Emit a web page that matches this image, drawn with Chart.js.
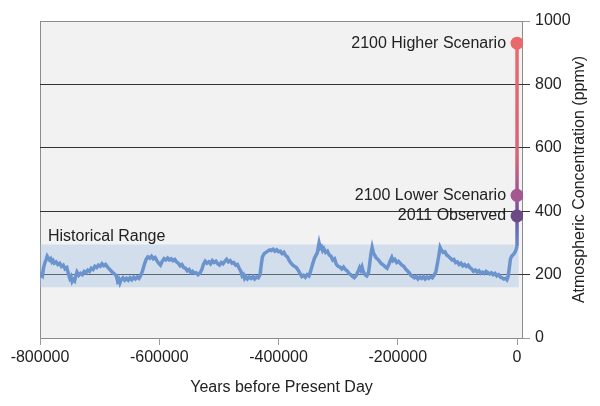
<!DOCTYPE html>
<html>
<head>
<meta charset="utf-8">
<script src="https://cdn.jsdelivr.net/npm/chart.js@4"></script>
<style>
  body { margin: 0; background: #fff; }
  #wrap { width: 600px; height: 406px; }
</style>
</head>
<body>
<div id="wrap"><canvas id="co2Chart" width="600" height="406"></canvas></div>
<script>
// CO2 record (years before present, ppmv)
const years = [
  -800000, -798000, -796000, -794000, -792000, -790000, -788000, -786000, -784000, -782000,
  -780000, -778000, -776000, -773000, -770000, -767000, -764000, -761000, -758000, -755000,
  -752000, -750000, -748000, -746000, -744000, -742000, -740000, -738000, -735000, -732000,
  -729000, -726000, -723000, -720000, -717000, -714000, -711000, -708000, -705000, -702000,
  -699000, -696000, -693000, -690000, -687000, -684000, -681000, -678000, -675000, -672000,
  -670000, -668000, -666000, -664000, -661000, -658000, -655000, -652000, -649000, -646000,
  -643000, -640000, -637000, -634000, -631000, -628000, -625000, -622000, -619000, -616000,
  -613000, -610000, -607000, -604000, -601000, -598000, -595000, -592000, -589000, -586000,
  -583000, -580000, -577000, -574000, -571000, -568000, -565000, -562000, -559000, -556000,
  -553000, -550000, -547000, -544000, -541000, -538000, -535000, -532000, -529000, -526000,
  -523000, -520000, -517000, -514000, -511000, -508000, -505000, -502000, -499000, -496000,
  -493000, -490000, -487000, -484000, -481000, -478000, -475000, -472000, -469000, -466000,
  -463000, -461000, -459000, -457000, -455000, -452000, -449000, -446000, -443000, -440000,
  -437000, -434000, -431000, -429000, -427000, -424000, -421000, -418000, -415000, -412000,
  -409000, -406000, -403000, -400000, -397000, -394000, -391000, -388000, -385000, -382000,
  -379000, -376000, -373000, -370000, -367000, -364000, -361000, -358000, -355000, -352000,
  -349000, -346000, -343000, -340000, -337000, -335000, -333000, -332000, -330000, -328000,
  -326000, -324000, -321000, -318000, -315000, -312000, -309000, -306000, -303000, -300000,
  -297000, -294000, -291000, -288000, -285000, -282000, -279000, -276000, -273000, -270000,
  -267000, -264000, -262000, -260000, -258000, -255000, -252000, -249000, -247000, -245000,
  -243000, -241000, -239000, -236000, -233000, -230000, -227000, -224000, -221000, -218000,
  -215000, -212000, -210000, -208000, -205000, -202000, -199000, -196000, -193000, -190000,
  -187000, -184000, -181000, -178000, -175000, -172000, -169000, -166000, -163000, -160000,
  -157000, -154000, -151000, -148000, -145000, -142000, -139000, -136000, -133000, -131000,
  -129000, -127000, -124000, -121000, -118000, -115000, -112000, -109000, -106000, -103000,
  -100000, -97000, -94000, -91000, -88000, -85000, -82000, -79000, -76000, -73000,
  -70000, -67000, -64000, -61000, -58000, -55000, -52000, -49000, -46000, -43000,
  -40000, -37000, -34000, -31000, -28000, -25000, -22000, -19000, -17000, -15000,
  -13000, -11000, -9000, -7000, -5000, -3000, -1500, 0];
const co2 = [
  192, 200, 196, 222, 236, 246, 258, 252, 246, 250,
  240, 244, 236, 240, 232, 236, 226, 230, 218, 222,
  200, 188, 194, 178, 184, 180, 196, 208, 198, 204,
  200, 210, 206, 214, 210, 220, 216, 226, 222, 230,
  226, 234, 228, 232, 224, 218, 212, 206, 202, 196,
  180, 186, 174, 184, 190, 182, 188, 182, 190, 184,
  192, 186, 192, 188, 198, 212, 232, 248, 256, 252,
  258, 250, 254, 244, 236, 230, 242, 250, 246, 252,
  246, 250, 244, 248, 240, 236, 228, 232, 222, 220,
  212, 216, 206, 210, 204, 206, 200, 204, 214, 232,
  242, 236, 240, 234, 244, 238, 242, 234, 230, 238,
  234, 242, 248, 240, 244, 236, 238, 230, 232, 220,
  210, 196, 200, 188, 194, 186, 192, 188, 194, 186,
  192, 190, 200, 230, 256, 266, 270, 274, 278, 276,
  280, 274, 278, 272, 274, 266, 270, 260, 256, 244,
  236, 230, 226, 222, 214, 204, 194, 198, 192, 200,
  196, 212, 232, 250, 262, 268, 290, 300, 284, 288,
  276, 282, 270, 274, 262, 258, 246, 250, 232, 226,
  224, 218, 224, 216, 212, 204, 200, 194, 190, 196,
  208, 222, 214, 224, 210, 200, 196, 206, 236, 266,
  286, 270, 262, 252, 248, 240, 234, 230, 224, 220,
  232, 246, 254, 244, 248, 238, 242, 236, 230, 226,
  218, 212, 206, 198, 194, 190, 194, 186, 192, 188,
  194, 186, 192, 188, 194, 190, 198, 210, 240, 262,
  286, 278, 270, 272, 262, 258, 252, 246, 248, 238,
  240, 232, 236, 228, 232, 226, 230, 222, 218, 210,
  214, 208, 212, 204, 208, 204, 210, 206, 202, 206,
  200, 204, 196, 200, 192, 190, 186, 188, 184, 194,
  220, 250, 258, 262, 266, 272, 280, 290];

// range of past values
const rangeYears = [-800000, 3000];
const rangeLow = 160;
const rangeHigh = 295;

// present day and scenarios
const futureYears = [0, 0];
const futureValues = [290, 930];
const markerLabels = ['2011 Observed', '2100 Lower Scenario', '2100 Higher Scenario'];
const markerValues = [385, 450, 930];
const markerColors = ['#6c4a86', '#a5578f', '#e9686b'];

const xTicks = [-800000, -600000, -400000, -200000, 0];
const yTicks = [0, 200, 400, 600, 800, 1000];

Chart.defaults.font.family = '"Liberation Sans", Arial, sans-serif';
Chart.defaults.font.size = 16;
Chart.defaults.color = '#222';

const plotBackground = {
  id: 'plotBackground',
  beforeDraw(chart) {
    const { ctx, chartArea: a } = chart;
    ctx.save();
    ctx.fillStyle = '#f2f2f2';
    ctx.fillRect(a.left, a.top, a.right - a.left, a.bottom - a.top);
    ctx.strokeStyle = '#8c8c8c';
    ctx.lineWidth = 1;
    ctx.strokeRect(a.left + 0.5, a.top + 0.5, a.right - a.left - 1, a.bottom - a.top);
    ctx.restore();
  }
};

const textLabels = {
  id: 'textLabels',
  afterDatasetsDraw(chart) {
    const { ctx, chartArea: a, scales } = chart;
    ctx.save();
    ctx.fillStyle = '#222';
    ctx.font = '16px "Liberation Sans", Arial, sans-serif';
    ctx.textAlign = 'right';
    ctx.textBaseline = 'middle';
    const px = scales.x.getPixelForValue(0) - 11;
    markerLabels.forEach((t, i) => {
      ctx.fillText(t, px, scales.y.getPixelForValue(markerValues[i]));
    });
    ctx.textAlign = 'left';
    ctx.textBaseline = 'alphabetic';
    ctx.fillText('Historical Range', a.left + 8, scales.y.getPixelForValue(rangeHigh) - 3);
    ctx.restore();
  },
  afterDraw(chart) {
    const { ctx, chartArea: a } = chart;
    ctx.save();
    ctx.translate(580, (a.top + a.bottom) / 2);
    ctx.rotate(-Math.PI / 2);
    ctx.fillStyle = '#222';
    ctx.font = '16px "Liberation Sans", Arial, sans-serif';
    ctx.textAlign = 'center';
    ctx.textBaseline = 'middle';
    ctx.fillText('Atmospheric Concentration (ppmv)', 0, 0);
    ctx.restore();
  }
};

function futureGradient(context) {
  const chart = context.chart;
  const { ctx, chartArea, scales } = chart;
  if (!chartArea) return '#e9686b';
  const y = scales.y;
  const y0 = y.getPixelForValue(futureValues[0]);
  const y1 = y.getPixelForValue(futureValues[1]);
  const g = ctx.createLinearGradient(0, y0, 0, y1);
  g.addColorStop(0, '#6a86c8');
  g.addColorStop(0.15, '#6a52a0');
  g.addColorStop(0.25, '#9a5596');
  g.addColorStop(0.45, '#d86478');
  g.addColorStop(1, '#ea6a6c');
  return g;
}

const ctx = document.getElementById('co2Chart').getContext('2d');
new Chart(ctx, {
  type: 'line',
  data: {
    datasets: [
      {
        data: markerValues.map(v => ({ x: 0, y: v })),
        showLine: false,
        pointRadius: 6.5,
        pointBackgroundColor: markerColors,
        pointBorderWidth: 0,
        order: 0
      },
      {
        data: futureYears.map((x, i) => ({ x: x, y: futureValues[i] })),
        borderColor: futureGradient,
        borderWidth: 3.5,
        pointRadius: 0,
        order: 1
      },
      {
        data: years.map((x, i) => ({ x: x, y: co2[i] })),
        borderColor: '#6b93cd',
        borderWidth: 3.5,
        pointRadius: 0,
        tension: 0,
        order: 2
      },
      {
        data: rangeYears.map(x => ({ x: x, y: rangeHigh })),
        borderWidth: 0,
        pointRadius: 0,
        backgroundColor: 'rgba(160, 190, 225, 0.38)',
        fill: { value: rangeLow },
        order: 3
      }
    ]
  },
  options: {
    responsive: false,
    animation: false,
    layout: { padding: { left: 40, top: 21, right: 0, bottom: 0 } },
    plugins: { legend: { display: false }, tooltip: { enabled: false } },
    scales: {
      x: {
        type: 'linear',
        min: -800000,
        max: 10000,
        afterBuildTicks: s => { s.ticks = xTicks.map(v => ({ value: v })); },
        afterFit: s => { s.height = 68; },
        ticks: { padding: 3, maxRotation: 0, callback: v => String(v) },
        grid: { drawOnChartArea: false, tickLength: 7, tickColor: '#9a9a9a' },
        border: { display: false },
        title: { display: true, text: 'Years before Present Day', padding: { top: 0, bottom: 9 } }
      },
      y: {
        position: 'right',
        min: 0,
        max: 1000,
        afterBuildTicks: s => { s.ticks = yTicks.map(v => ({ value: v })); },
        afterFit: s => { s.width = 77; },
        ticks: { padding: 5, callback: v => String(v) },
        grid: {
          tickLength: 7,
          color: c => (c.tick && c.tick.value > 0 && c.tick.value < 1000) ? '#333333' : 'rgba(0,0,0,0)',
          tickColor: c => (c.tick && c.tick.value > 0 && c.tick.value < 1000) ? '#333333' : '#9a9a9a'
        },
        border: { display: false }
      }
    }
  },
  plugins: [plotBackground, textLabels]
});
</script>
</body>
</html>
